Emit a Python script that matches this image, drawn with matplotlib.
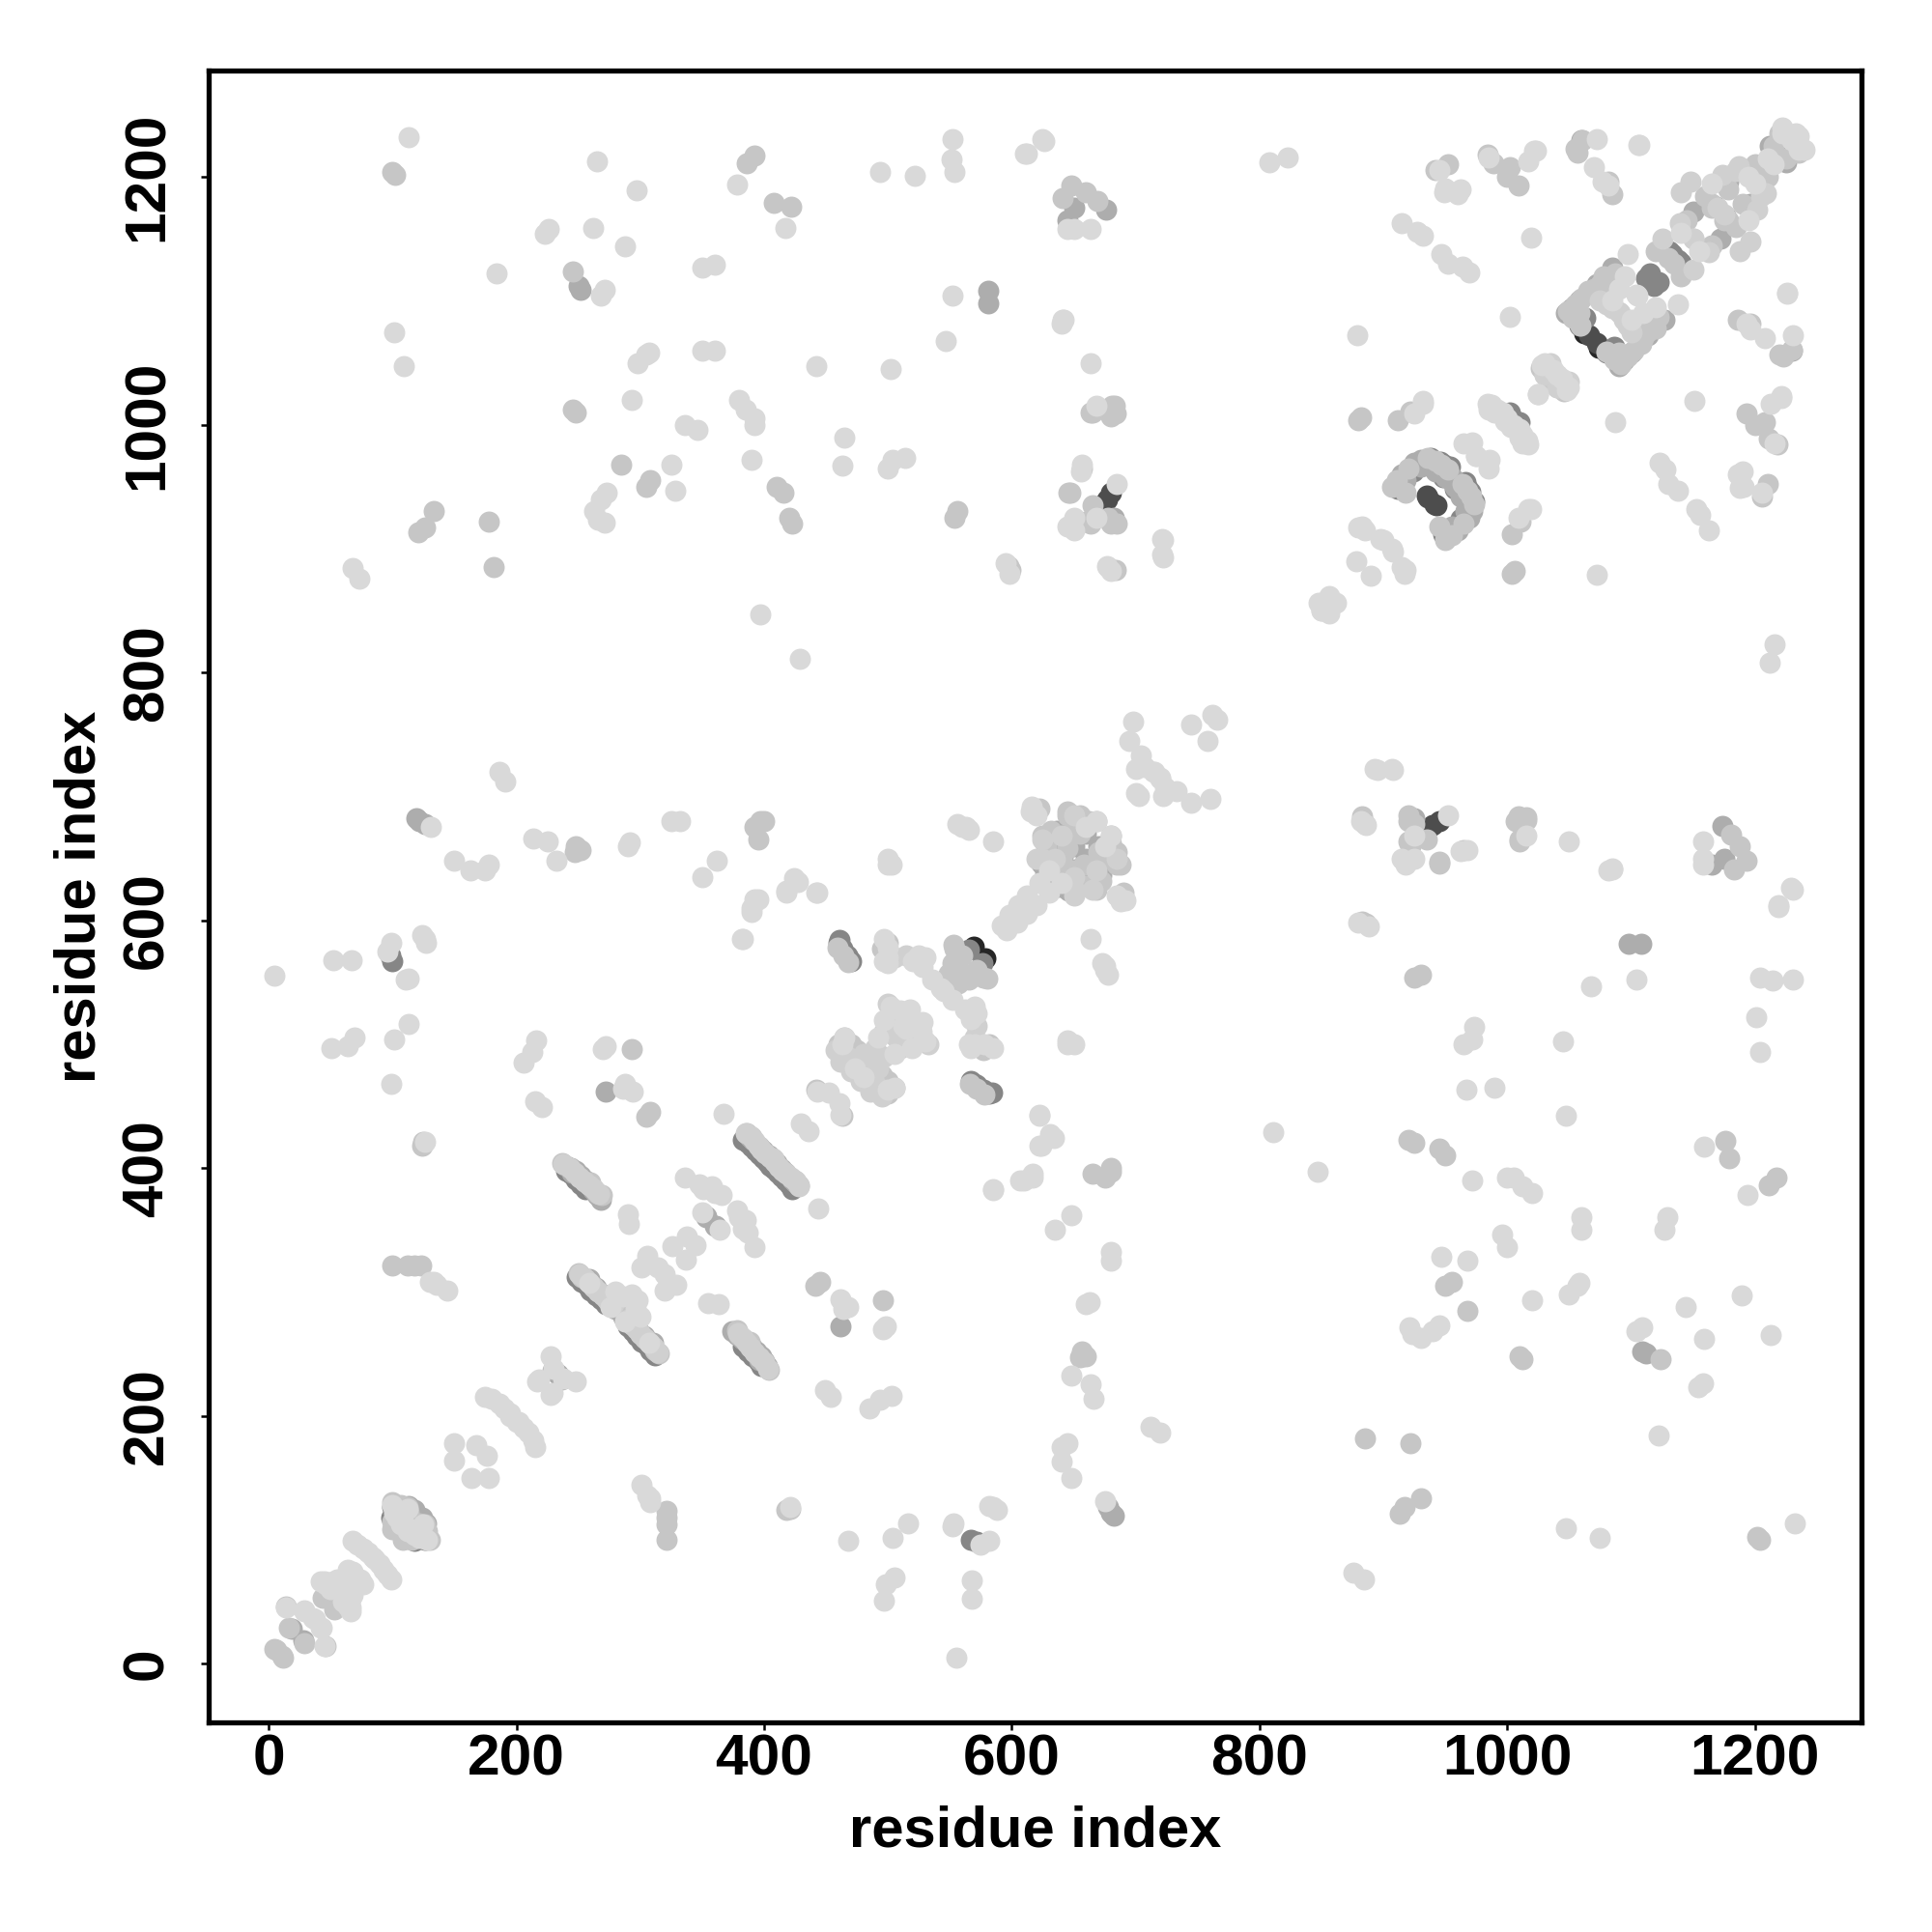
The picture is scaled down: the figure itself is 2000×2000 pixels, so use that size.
import matplotlib
matplotlib.use('Agg')
import matplotlib.pyplot as plt
import numpy as np

plt.rcParams['font.family'] = ['Liberation Sans', 'DejaVu Sans']

# contactos (i, j) con i < j, el mapa es simetrico; agrupados por tono de gris
contacts_black = [(1062,1074),(569,579)]

contacts_vdark = [(935,943),(941,936),(672,932),(674,936),(677,940),(680,945),(1066,1072),(1168,1176)]

contacts_dark = [(463,577),(460,582),(467,572),(470,567),(1115,1122),(1112,1118),(1002,1010),(1007,1003),
                 (1133,1138),(1131,1140),(938,973),(950,966),(946,970),(1216,1222),(100,567),(98,572),
                 (461,584),(468,570),(565,576),(949,968),(954,966),(1063,1086),(1058,1080),
                 (249,312),(253,308),(257,305),(260,301),(264,297),(268,294),(272,290),
                 (240,398),(244,395),(248,391),(252,387),(256,383),
                 (383,423),(387,420),(390,417),(393,414),(396,411),(399,408),(402,405),
                 (99,118),(100,126),(103,112),(108,122),(111,124),(113,108),(116,105),(119,101),(110,104),
                 (912,948),(924,962),(948,963),(958,948)]

contacts_mid = [(19,28),(272,462),(113,127),(112,113),(118,124),(120,105),(248,398),(245,396),(240,402),(252,394),
                (256,390),(259,310),(264,303),(270,298),(276,291),(280,286),(374,268),(378,265),(382,262),(388,256),
                (392,252),(396,248),(400,244),(388,425),(391,423),(396,417),(399,414),(404,410),(406,408),(627,638),
                (641,651),(636,655),(250,1112),(252,1109),(581,1108),(581,1098),(650,1175),(676,1174),(645,1165),
                (682,925),(1047,1090),(1052,1094),(1058,1100),(1085,1127),(1072,1114),(915,960),
                (925,969),(930,972),(958,950),(955,958),(1150,1172),(1178,1196),(233,234),(229,236),(353,360),(361,353),
                (119,682),(122,680),(126,678),(1212,1225),(1205,1192),(1060,1230),(1221,1226),(1220,1226),(1206,1205),
                (624,646),(630,662),(640,655),(650,665),(636,672),(660,640),(918,955),(930,966),(952,958),(962,942),
                (648,660),(660,650),(642,672),(670,660)]

contacts_normal = [(5,12),(6,11),(16,29),(14,46),(44,53),(100,130),(101,125),(100,115),(100,108),(103,122),(105,112),
                   (107,128),(110,118),(113,122),(116,112),(118,105),(126,112),(128,103),(250,315),(253,312),(256,310),
                   (263,303),(266,300),(273,294),(283,288),(237,404),(260,388),(265,380),(269,378),(425,390),(428,386),
                   (442,463),(305,441),(308,445),(125,421),(124,418),(100,321),(112,321),(118,321),(123,321),(293,496),
                   (460,500),(465,505),(470,500),(475,495),(554,577),(549,557),(552,565),(553,580),(556,565),(560,572),
                   (495,577),(500,582),(622,690),(625,668),(628,660),(630,650),(632,640),(640,635),(645,685),
                   (650,640),(655,670),(658,645),(662,680),(668,645),(672,632),(680,650),
                   (685,655),(688,645),(668,680),(646,945),(660,922),(665,935),(680,920),(680,1007),(681,1015),
                   (665,1010),(554,925),(556,930),(246,1124),(246,1012),(248,1010),(285,968),(305,950),(308,955),(410,950),
                   (416,945),(420,925),(423,920),(100,1204),(102,1202),(386,1211),(392,1217),(408,1179),(422,1176),
                   (641,1183),(648,1193),(660,1188),(669,1181),(649,917),(664,920),(678,925),(685,920),(678,885),(684,883),
                   (664,1010),(683,1015),(684,1009),(597,886),(599,883),(907,950),(911,955),(920,965),(936,973),(942,971),
                   (947,968),(952,964),(918,945),(912,1004),(922,1011),
                   (880,1004),(882,1006),(1027,1046),(1033,1036),(942,1206),(952,1210),(984,1218),(989,1211),(1055,1223),
                   (1061,1230),(1065,1108),(1078,1120),(1087,1114),(1092,1049),(1120,1140),(1130,1135),(1145,1165),
                   (1160,1185),(1165,1178),(1175,1165),(1190,1178),(1200,1210),(1225,1215),(1235,1220),(1085,1186),
                   (1082,1196),(1057,1220),(1000,1200),(1009,1193),(1002,1208),(178,922),(182,885),(133,930),
                   (121,913),(126,917),(647,945),(657,965),(392,675),(397,680),(395,665),(400,680),(247,655),(252,657),(248,660),
                   (464,572),(468,566),(459,578),(1055,1097),(1060,1102),(1065,1106),(1070,1110),(1075,1113),(1080,1118),
                   (1087,1122),(1053,1086),(1058,1090),(1059,1080)]

contacts_pale = [(505,507),(490,497),(505,520),(500,533),(480,492),(485,488),(462,486),(470,478),(480,484),(490,468),
                 (495,458),(497,510),(505,570),(515,572),(650,685),(640,668),(635,650),(625,650),(620,650),(665,625),
                 (1030,1040),(1040,1030),(1035,1050),(1045,1030),(1125,1150),(1150,1150),(1170,1175),(1185,1205),(1080,1097),
                 (1085,1094),(1090,1091),(1075,1100),(1148,1196),(1140,1188),(1174,1202),(1187,1209),(1163,1139),
                 (385,428),(389,426),(392,422),(395,418),(398,415),(401,412),(405,409),(408,407),
                 (238,403),(243,400),(247,396),(251,392),(255,389),(259,386),(263,383),(267,379),
                 (251,314),(255,311),(258,308),(262,304),(266,300),(270,297),(274,293),(278,290)]

contacts_light = [(14,45),(29,43),(36,37),(29,42),(46,64),(45,66),(52,66),(42,66),(64,76),(55,68),(68,74),(60,62),(50,60),
                  (68,99),(72,96),(76,93),(80,90),(84,86),(150,178),(150,164),(168,176),(175,215),(180,214),(186,210),
                  (190,206),(195,202),(200,195),(228,248),(218,229),(217,228),(238,230),(259,307),(276,288),
                  (430,436),(452,461),(443,462),(367,444),(382,585),(306,329),(314,320),(301,320),(326,337),(338,345),
                  (350,364),(336,392),(348,387),(358,385),(366,378),(351,383),(360,380),(293,298),(286,296),(280,300),
                  (291,355),(290,363),(294,462),(288,468),(286,464),(270,496),(272,498),(130,308),(136,306),(144,301),
                  (133,308),(126,421),(221,449),(215,454),(206,485),(213,494),(216,503),(99,468),(101,504),(113,516),
                  (113,553),(99,582),(127,582),(124,588),(69,505),(64,498),(51,497),(67,568),(52,568),(5,555),(111,552),
                  (126,585),(96,575),(186,720),(191,712),(131,675),(150,648),(163,640),(175,640),(178,645),(214,666),
                  (225,664),(232,648),(292,663),(290,660),(325,680),(332,680),(350,635),(362,648),(390,610),(395,617),
                  (418,622),(427,631),(443,622),(383,585),(390,607),(392,617),(418,624),(424,634),(442,622),(497,567),
                  (500,565),(520,567),(528,562),(536,552),(543,545),(497,519),(510,527),(517,525),(502,530),(512,515),
                  (518,528),(473,480),(505,465),(500,463),(492,505),(500,570),(497,585),(500,578),
                  (525,572),(530,570),(592,596),(598,604),(605,612),(612,620),(622,630),(630,640),
                  (616,692),(620,685),(615,688),(585,664),(563,675),(556,678),(560,675),(565,673),(500,645),(503,645),
                  (500,650),(675,660),(680,668),(698,760),
                  (695,745),(704,733),(700,722),(707,724),(714,720),(720,715),(745,758),(762,766),(700,703),(722,893),
                  (722,907),(680,882),(677,886),(598,880),(595,888),(668,925),(650,915),(650,925),(645,918),(656,962),
                  (657,968),(668,1015),(664,1050),(640,1082),(642,1085),(113,1232),(101,1075),(109,1047),(68,884),(73,876),
                  (184,1122),(223,1154),(226,1158),(262,1159),(288,1144),(265,1213),(297,1189),(268,1104),(271,1109),(293,1020),
                  (298,1050),(305,1057),(307,1058),(325,968),(328,947),(263,930),(268,940),(273,945),(266,923),(271,921),
                  (336,1000),(346,996),(350,1127),(360,1129),(350,1060),(360,1060),(380,1020),(385,1012),(392,1005),
                  (392,1000),(390,972),(378,1194),(417,1159),(397,847),(429,811),(442,1047),(465,990),(463,967),(494,1204),
                  (522,1201),(502,1045),(500,965),(504,972),(514,973),(554,1204),(551,1214),(552,1231),(547,1068),(552,1104),
                  (611,1219),(625,1231),(641,1085),(645,1158),(650,1158),(664,1158),(721,908),(721,895),(808,1212),(823,1216),
                  (848,856),(856,862),(850,850),(878,890),(880,917),(885,915),(898,908),(907,900),(883,918),(965,985),
                  (975,975),(972,986),(987,1016),(992,1012),(997,1010),(1000,1005),(1012,985),(1017,984),(1010,990),(1003,998),
                  (1025,1025),(1037,1044),(1030,1050),(1040,1040),(1048,1028),
                  (1002,1087),(879,1072),(932,1019),(915,1163),(927,1156),(932,1153),(947,1138),(952,1130),(964,1128),(969,1123),
                  (949,1188),(962,1190),(1017,1213),(1022,1221),(1019,1151),(1070,1208),(1077,1196),(1107,1226),(1095,1120),
                  (1090,1110),(1085,1100),(1097,1138),(1105,1104),(1140,1155),(1165,1195),
                  (1195,1200),(1210,1215),(1222,1235),(1230,1230),(1233,1235),(1240,1222),(925,1009),(932,1017),
                  (1072,1231),(1082,1193),(960,1186),(950,1191),(945,1206),(985,1216),(1023,1221),(612,1219),(626,1229),
                  (1106,1226),(685,952),(100,128),(104,118),(107,112),(112,125),(115,108),(122,101)]

groups = [(contacts_black, '#262626'), (contacts_vdark, '#4d4d4d'), (contacts_dark, '#868686'),
          (contacts_mid, '#adadad'), (contacts_normal, '#c6c6c6'), (contacts_pale, '#d0d0d0'), (contacts_light, '#d9d9d9')]

xticks = [0, 200, 400, 600, 800, 1000, 1200]

fig = plt.figure(figsize=(20, 20), dpi=100)
ax = fig.add_axes([0.108, 0.1085, 0.8555, 0.855])

for pares, color in groups:
    i = np.array([p[0] for p in pares])
    j = np.array([p[1] for p in pares])
    ax.scatter(np.r_[i, j], np.r_[j, i], s=250, c=color, linewidths=0, zorder=2)

ax.set_xlim(-48.4, 1286)
ax.set_ylim(-47.6, 1286)
ax.set_xticks(xticks)
ax.set_yticks(xticks)
ax.tick_params(length=5.5, width=1.8, labelsize=43.5)
ax.tick_params(axis='x', pad=3)
ax.tick_params(axis='y', pad=20)
for lab in ax.get_xticklabels() + ax.get_yticklabels():
    lab.set_fontweight('bold')
for lab in ax.get_yticklabels():
    lab.set_rotation(90)
    lab.set_va('center')
for s in ax.spines.values():
    s.set_linewidth(3.8)

ax.set_xlabel('residue index', fontsize=43, fontweight='bold')
ax.set_ylabel('residue index', fontsize=43, fontweight='bold')
ax.xaxis.set_label_coords(0.5, -0.0500)
ax.yaxis.set_label_coords(-0.0615, 0.5)

fig.savefig('out.png', dpi=100)
